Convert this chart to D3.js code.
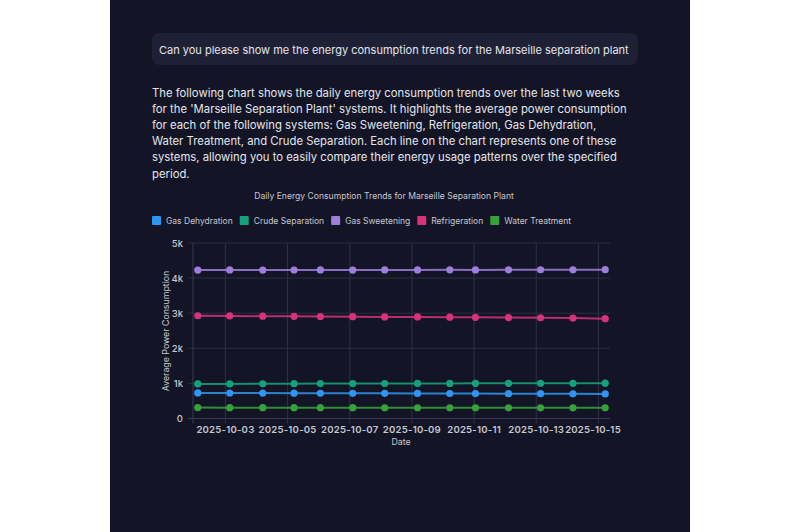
<!DOCTYPE html>
<html>
<head>
<meta charset="utf-8">
<script src="https://cdn.jsdelivr.net/npm/d3@7.9.0/dist/d3.min.js"></script>
<style>
  html, body { margin: 0; padding: 0; background: #ffffff; }
  svg { display: block; font-family: Inter, "Noto Sans", sans-serif; }
</style>
</head>
<body>
<svg id="chart" width="800" height="532"></svg>
<script>
// data
const dates = [
  "2025-10-02T02:40", "2025-10-03T03:20", "2025-10-04T04:50", "2025-10-05T05:00",
  "2025-10-06T01:20", "2025-10-07T02:20", "2025-10-08T03:00", "2025-10-09T04:20",
  "2025-10-10T05:15", "2025-10-11T01:05", "2025-10-12T02:35", "2025-10-13T03:20",
  "2025-10-14T04:20", "2025-10-15T05:15"
];
const gasDehydration = [728, 726, 724, 722, 720, 718, 716, 714, 712, 710, 708, 706, 703, 700];
const crudeSeparation = [985, 986, 990, 992, 994, 995, 997, 998, 1000, 1001, 1002, 1004, 1003, 1006];
const gasSweetening = [4230, 4232, 4228, 4231, 4233, 4230, 4234, 4232, 4235, 4233, 4236, 4238, 4237, 4240];
const refrigeration = [2928, 2922, 2915, 2912, 2906, 2902, 2895, 2893, 2887, 2882, 2876, 2871, 2862, 2845];
const waterTreatment = [310, 309, 308, 308, 307, 307, 306, 306, 305, 305, 305, 304, 304, 304];

const seriesNames = ["Gas Dehydration", "Crude Separation", "Gas Sweetening", "Refrigeration", "Water Treatment"];
const seriesValues = [gasDehydration, crudeSeparation, gasSweetening, refrigeration, waterTreatment];
const seriesColors = ["#2f95ef", "#16a07c", "#9d7fdb", "#d8327b", "#37a23b"];
const yTicks = [0, 1000, 2000, 3000, 4000, 5000];

const question = "Can you please show me the energy consumption trends for the Marseille separation plant";
const bodyLines = [
  "The following chart shows the daily energy consumption trends over the last two weeks",
  "for the 'Marseille Separation Plant' systems. It highlights the average power consumption",
  "for each of the following systems: Gas Sweetening, Refrigeration, Gas Dehydration,",
  "Water Treatment, and Crude Separation. Each line on the chart represents one of these",
  "systems, allowing you to easily compare their energy usage patterns over the specified",
  "period."
];
const chartTitle = "Daily Energy Consumption Trends for Marseille Separation Plant";

const parse = d3.timeParse("%Y-%m-%dT%H:%M");
const times = dates.map(parse);

const svg = d3.select("#chart");

// dark panel
svg.append("rect").attr("x", 110).attr("y", 0).attr("width", 580).attr("height", 532).attr("fill", "#131526");

// question bubble
svg.append("rect").attr("x", 152).attr("y", 33).attr("width", 486).attr("height", 32)
  .attr("rx", 8).attr("fill", "#1e2135");
svg.append("text").attr("x", 159).attr("y", 49.5).attr("dominant-baseline", "central")
  .attr("fill", "#e4e5ec").attr("font-size", 11).text(question);

// answer paragraph
svg.append("g").selectAll("text").data(bodyLines).join("text")
  .attr("x", 152).attr("y", (d, i) => 92.5 + i * 16.2).attr("dominant-baseline", "central")
  .attr("fill", "#e4e5ec").attr("font-size", 11.3).text(d => d);

// scales
const pad = 3.7 * 3600 * 1000;
const x = d3.scaleTime()
  .domain([new Date(+times[0] - pad), new Date(+times[times.length - 1] + pad)])
  .range([193, 610]);
const y = d3.scaleLinear().domain([0, 5000]).range([418.5, 243]);

// title
svg.append("text").attr("x", 384).attr("y", 196).attr("text-anchor", "middle").attr("dominant-baseline", "central")
  .attr("fill", "#c6c7d0").attr("font-size", 8.6).text(chartTitle);

// legend
const legend = svg.append("g");
let lx = 152;
seriesNames.forEach((name, i) => {
  legend.append("rect").attr("x", lx).attr("y", 216).attr("width", 9).attr("height", 9)
    .attr("rx", 1).attr("fill", seriesColors[i]);
  const t = legend.append("text").attr("x", lx + 14).attr("y", 220.5).attr("dominant-baseline", "central")
    .attr("fill", "#c6c7d0").attr("font-size", 8.5).text(name);
  lx += 14 + t.node().getComputedTextLength() + 7;
});

// grid
const xTicks = x.ticks(d3.timeDay.every(2));
svg.append("g").selectAll("line").data(xTicks).join("line")
  .attr("x1", d => x(d)).attr("x2", d => x(d)).attr("y1", 243).attr("y2", 423.5)
  .attr("stroke", "#2e3147").attr("stroke-width", 1);
svg.append("g").selectAll("line").data(yTicks).join("line")
  .attr("x1", 188).attr("x2", 610).attr("y1", d => y(d)).attr("y2", d => y(d))
  .attr("stroke", d => d === 0 ? "#363a52" : "#2a2d42").attr("stroke-width", 1);
svg.append("line").attr("x1", 193).attr("x2", 193).attr("y1", 243).attr("y2", 423.5)
  .attr("stroke", "#363a52");

// axes labels
const fmtY = d => d === 0 ? "0" : d3.format("~s")(d);
svg.append("g").selectAll("text").data(yTicks).join("text")
  .attr("x", 183).attr("y", d => y(d)).attr("text-anchor", "end").attr("dominant-baseline", "central")
  .attr("fill", "#c6c7d0").attr("font-size", 9.5).attr("font-weight", 500).text(fmtY);
const fmtX = d3.timeFormat("%Y-%m-%d");
const xLabels = svg.append("g").selectAll("text").data(xTicks).join("text")
  .attr("x", d => x(d)).attr("y", 429.5).attr("text-anchor", "middle").attr("dominant-baseline", "central")
  .attr("fill", "#c6c7d0").attr("font-size", 9.6).attr("font-weight", 600).attr("letter-spacing", 0.2)
  .text(fmtX);
// last label is pushed right, close to the previous one as in the original
const lastTick = xTicks[xTicks.length - 1];
const prevTick = xTicks[xTicks.length - 2];
xLabels.filter(d => d === lastTick).each(function () {
  const prevW = xLabels.filter(d => d === prevTick).node().getComputedTextLength();
  d3.select(this).attr("text-anchor", "start").attr("x", x(prevTick) + prevW / 2 + 1);
});
svg.append("text").attr("x", 401).attr("y", 441).attr("text-anchor", "middle").attr("dominant-baseline", "central")
  .attr("fill", "#c6c7d0").attr("font-size", 8.8).text("Date");
svg.append("text").attr("transform", "translate(165,331) rotate(-90)")
  .attr("text-anchor", "middle").attr("dominant-baseline", "central")
  .attr("fill", "#c6c7d0").attr("font-size", 8.8).text("Average Power Consumption");

// lines and points
const line = d3.line().x((d, i) => x(times[i])).y(d => y(d));
seriesValues.forEach((vals, s) => {
  const g = svg.append("g");
  g.append("path").attr("d", line(vals)).attr("fill", "none")
    .attr("stroke", seriesColors[s]).attr("stroke-width", 2).attr("stroke-opacity", 0.85);
  g.selectAll("circle").data(vals).join("circle")
    .attr("cx", (d, i) => x(times[i])).attr("cy", d => y(d)).attr("r", 3.6)
    .attr("fill", seriesColors[s]);
});
</script>
</body>
</html>
